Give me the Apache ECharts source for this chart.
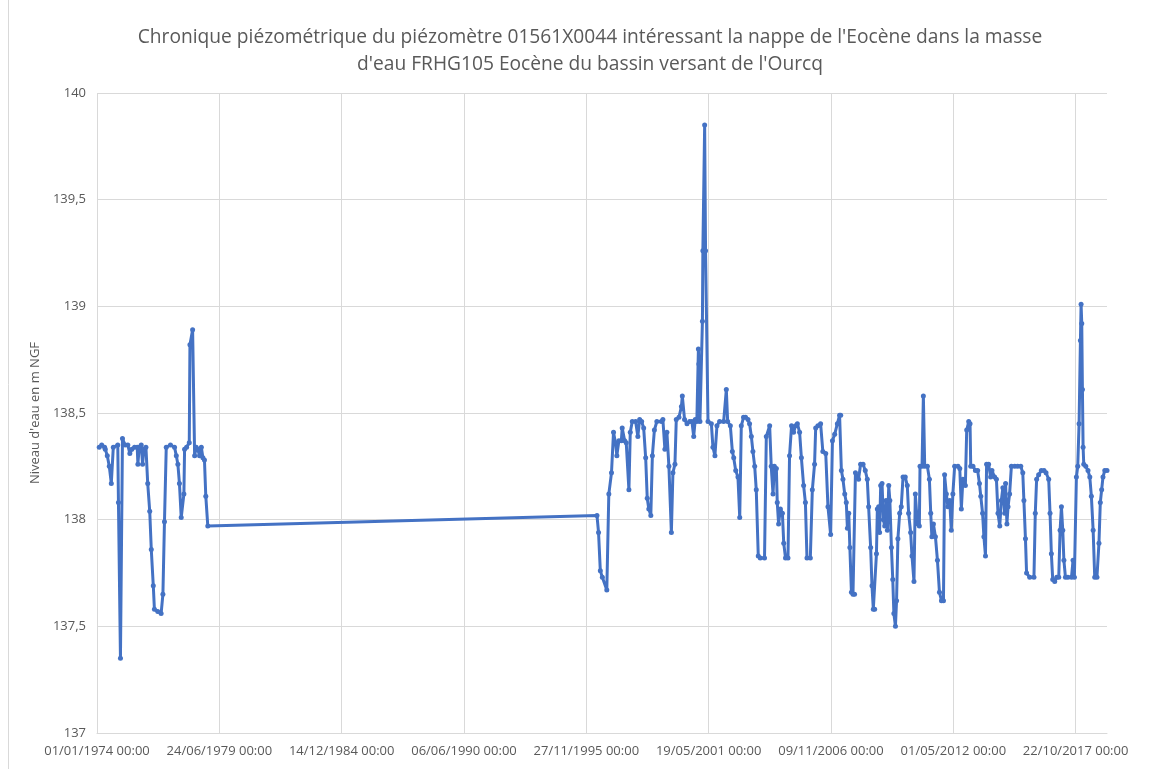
<!DOCTYPE html>
<html><head><meta charset="utf-8">
<script src="https://cdn.jsdelivr.net/npm/echarts@6/dist/echarts.min.js"></script>
<style>html,body{margin:0;padding:0;background:#fff}#c{width:1167px;height:769px}</style>
</head><body><div id="c"></div>
<script>
const titre = "Chronique piézométrique du piézomètre 01561X0044 intéressant la nappe de l'Eocène dans la masse\nd'eau FRHG105 Eocène du bassin versant de l'Ourcq";
const nomAxeY = "Niveau d'eau en m NGF";
const xTicksJours = [0, 2000, 4000, 6000, 8000, 10000, 12000, 14000, 16000];
const yTicks = [137, 137.5, 138, 138.5, 139, 139.5, 140];

// [année décimale, niveau (m NGF)]
const mesures1974 = [
[1974.10,138.34],[1974.21,138.35],[1974.34,138.34],[1974.37,138.33],[1974.46,138.30],[1974.55,138.25],[1974.64,138.17],[1974.73,138.34],[1974.93,138.35],[1974.96,138.08],[1975.05,137.35],[1975.14,138.38],[1975.26,138.35],[1975.38,138.35],[1975.47,138.31],[1975.56,138.33],[1975.68,138.34],[1975.80,138.34],[1975.83,138.26],[1975.89,138.34],[1975.98,138.35],[1976.04,138.26],[1976.10,138.33],[1976.19,138.34],[1976.27,138.17],[1976.36,138.04],[1976.43,137.86],[1976.52,137.69],[1976.57,137.58],[1976.72,137.57],[1976.87,137.56],[1976.95,137.65],[1977.02,137.99],[1977.10,138.34],[1977.29,138.35],[1977.47,138.34],[1977.55,138.30],[1977.62,138.26],[1977.69,138.17],[1977.77,138.01],[1977.89,138.12],[1977.92,138.33],[1978.01,138.34],[1978.13,138.36],[1978.16,138.82],[1978.28,138.89],[1978.37,138.30],[1978.44,138.34],[1978.51,138.33],[1978.59,138.30],[1978.67,138.34],[1978.74,138.29],[1978.81,138.28],[1978.87,138.11],[1978.96,137.97]
];
const mesures1996 = [
[1996.38,138.02],[1996.45,137.94],[1996.53,137.76],[1996.62,137.73],[1996.82,137.67],[1996.91,138.12],[1997.03,138.22],[1997.12,138.41],[1997.21,138.36],[1997.27,138.30],[1997.36,138.37],[1997.47,138.37],[1997.51,138.43],[1997.62,138.37],[1997.69,138.36],[1997.81,138.14],[1997.87,138.41],[1997.96,138.46],[1998.11,138.46],[1998.21,138.39],[1998.29,138.47],[1998.38,138.46],[1998.47,138.43],[1998.56,138.29],[1998.63,138.10],[1998.70,138.05],[1998.79,138.02],[1998.86,138.30],[1998.95,138.42],[1999.06,138.46],[1999.26,138.46],[1999.33,138.47],[1999.42,138.33],[1999.51,138.41],[1999.60,138.25],[1999.71,137.94],[1999.78,138.22],[1999.87,138.26],[1999.93,138.47],[2000.05,138.48],[2000.16,138.53],[2000.20,138.58],[2000.30,138.47],[2000.41,138.45],[2000.53,138.46],[2000.63,138.46],[2000.71,138.39],[2000.78,138.47],[2000.85,138.46],[2000.92,138.80],[2000.94,138.73],[2000.99,138.46],[2001.10,138.93],[2001.12,139.26],[2001.20,139.85],[2001.24,139.26],[2001.35,138.46],[2001.50,138.45],[2001.57,138.34],[2001.66,138.30],[2001.75,138.44],[2001.87,138.46],[2002.05,138.46],[2002.17,138.61],[2002.23,138.46],[2002.35,138.44],[2002.44,138.32],[2002.50,138.29],[2002.59,138.23],[2002.69,138.20],[2002.77,138.01],[2002.84,138.44],[2002.94,138.48],[2003.03,138.48],[2003.14,138.47],[2003.21,138.45],[2003.29,138.39],[2003.36,138.32],[2003.44,138.25],[2003.51,138.14],[2003.60,137.83],[2003.69,137.82],[2003.88,137.82],[2003.96,138.39],[2004.11,138.44],[2004.18,138.25],[2004.26,138.12],[2004.32,138.25],[2004.41,138.24],[2004.45,138.08],[2004.51,137.98],[2004.59,138.05],[2004.68,138.03],[2004.74,137.89],[2004.82,137.82],[2004.93,137.82],[2005.00,138.30],[2005.09,138.44],[2005.18,138.41],[2005.27,138.44],[2005.35,138.45],[2005.45,138.41],[2005.53,138.29],[2005.63,138.16],[2005.71,138.08],[2005.78,137.82],[2005.93,137.82],[2006.02,138.14],[2006.12,138.26],[2006.17,138.43],[2006.27,138.44],[2006.39,138.45],[2006.49,138.32],[2006.62,138.31],[2006.72,138.06],[2006.84,137.93],[2006.92,138.37]
];
const mesures2007 = [
[2007.02,138.40],[2007.14,138.45],[2007.24,138.49],[2007.29,138.49],[2007.32,138.23],[2007.39,138.19],[2007.47,138.12],[2007.54,138.08],[2007.59,137.96],[2007.65,138.03],[2007.70,137.87],[2007.77,137.66],[2007.84,137.65],[2007.91,137.65],[2007.95,138.22],[2008.09,138.19],[2008.18,138.26],[2008.29,138.26],[2008.39,138.23],[2008.48,138.19],[2008.54,138.06],[2008.63,137.87],[2008.69,137.69],[2008.75,137.58],[2008.81,137.58],[2008.89,137.84],[2008.93,138.05],[2008.99,138.06],[2009.03,137.94],[2009.08,138.16],[2009.14,138.17],[2009.20,138.00],[2009.26,137.97],[2009.32,138.09],[2009.38,137.95],[2009.44,138.16],[2009.49,138.09],[2009.56,137.87],[2009.62,137.72],[2009.67,137.56],[2009.74,137.50],[2009.79,137.62],[2009.85,137.91],[2009.93,138.03],[2010.00,138.06],[2010.08,138.20],[2010.18,138.20],[2010.27,138.16],[2010.33,138.03],[2010.42,137.94],[2010.48,137.83],[2010.57,137.71],[2010.63,138.12],[2010.69,138.03],[2010.75,137.98],[2010.81,137.97],[2010.84,138.25],[2010.93,138.25],[2010.99,138.58],[2011.05,138.25],[2011.17,138.25],[2011.26,138.19],[2011.32,138.03],[2011.37,137.92],[2011.44,137.98],[2011.53,137.92],[2011.62,137.81],[2011.71,137.66],[2011.80,137.62],[2011.89,137.62],[2011.94,138.21],[2012.02,138.12],[2012.09,138.06],[2012.17,138.09],[2012.24,137.95],[2012.31,138.12],[2012.39,138.25],[2012.54,138.25],[2012.62,138.24],[2012.69,138.05],[2012.76,138.19],[2012.87,138.16],[2012.93,138.42],[2013.02,138.46],[2013.08,138.45],[2013.11,138.25],[2013.21,138.25],[2013.32,138.23],[2013.42,138.23],[2013.50,138.17],[2013.56,138.11],[2013.64,138.03],[2013.70,137.92],[2013.77,137.83],[2013.82,138.26],[2013.91,138.26],[2014.00,138.20],[2014.06,138.23],[2014.18,138.20],[2014.26,138.19],[2014.33,138.03],[2014.41,137.97],[2014.48,138.09],[2014.55,138.15],[2014.63,138.03],[2014.67,138.17],[2014.73,137.98],[2014.78,138.06],[2014.85,138.12],[2014.93,138.25],[2015.08,138.25],[2015.21,138.25],[2015.35,138.25],[2015.44,138.22],[2015.49,138.09],[2015.56,137.91],[2015.61,137.75],[2015.75,137.73],[2015.94,137.73],[2016.00,138.03],[2016.06,138.19],[2016.15,138.21],[2016.27,138.23],[2016.39,138.23],[2016.48,138.22],[2016.60,138.19],[2016.66,138.03],[2016.72,137.84],[2016.78,137.72],[2016.87,137.71],[2016.96,137.73],[2017.05,137.73],[2017.11,137.95],[2017.17,138.06],[2017.23,137.95],[2017.28,137.81],[2017.35,137.73],[2017.46,137.73],[2017.62,137.73],[2017.69,137.81],[2017.75,137.73],[2017.84,138.20],[2017.90,138.25],[2017.96,138.45],[2018.02,138.84],[2018.05,139.01],[2018.08,138.92],[2018.11,138.61],[2018.14,138.34],[2018.17,138.26],[2018.26,138.25],[2018.36,138.23],[2018.44,138.20],[2018.51,138.11],[2018.59,137.95],[2018.66,137.73],[2018.76,137.73],[2018.85,137.89],[2018.91,138.08],[2018.97,138.14],[2019.03,138.20],[2019.11,138.23],[2019.21,138.23]
];

const origine = Date.UTC(1974, 0, 1);
const versJours = a => (a - 1974) * 365.25;
const toutes = mesures1974.concat(mesures1996, mesures2007).map(p => [versJours(p[0]), p[1]]);
const pad = n => (n < 10 ? '0' : '') + n;
function fmtDate(j) {
  const d = new Date(origine + Math.round(j) * 86400000);
  return pad(d.getUTCDate()) + '/' + pad(d.getUTCMonth() + 1) + '/' + d.getUTCFullYear() + ' 00:00';
}
const police = '"Open Sans", sans-serif';
const chart = echarts.init(document.getElementById('c'), null, {renderer: 'canvas'});
chart.setOption({
  animation: false,
  backgroundColor: '#ffffff',
  title: {
    text: titre, left: 585, top: 19, textAlign: 'center',
    textStyle: {fontFamily: police, fontSize: 19.2, fontWeight: 'normal', color: '#595959', lineHeight: 27}
  },
  graphic: [{type: 'line', shape: {x1: 8.5, y1: 0, x2: 8.5, y2: 769}, style: {stroke: '#d9d9d9', lineWidth: 1}}],
  grid: {left: 97, right: 60, top: 93, bottom: 36, containLabel: false},
  xAxis: {
    type: 'value', min: 0, max: 'dataMax', interval: 2000,
    axisLine: {show: true, lineStyle: {color: '#d9d9d9', width: 1}},
    axisTick: {show: false, customValues: xTicksJours},
    splitLine: {show: true, lineStyle: {color: '#d9d9d9', width: 1}},
    axisLabel: {customValues: xTicksJours, formatter: v => fmtDate(v), color: '#595959', fontFamily: police, fontSize: 13, margin: 12}
  },
  yAxis: {
    type: 'value', min: yTicks[0], max: yTicks[yTicks.length - 1], interval: 0.5,
    name: nomAxeY, nameLocation: 'middle', nameGap: 50, nameRotate: 90,
    nameTextStyle: {fontFamily: police, fontSize: 13, color: '#595959'},
    axisLine: {show: false}, axisTick: {show: false},
    splitLine: {show: true, lineStyle: {color: '#d9d9d9', width: 1}},
    axisLabel: {formatter: v => String(v).replace('.', ','), color: '#595959', fontFamily: police, fontSize: 13, margin: 11}
  },
  series: [{
    type: 'line', data: toutes,
    symbol: 'circle', symbolSize: 5, showAllSymbol: true,
    lineStyle: {color: '#4472C4', width: 3},
    itemStyle: {color: '#4472C4'}
  }]
});
</script></body></html>
